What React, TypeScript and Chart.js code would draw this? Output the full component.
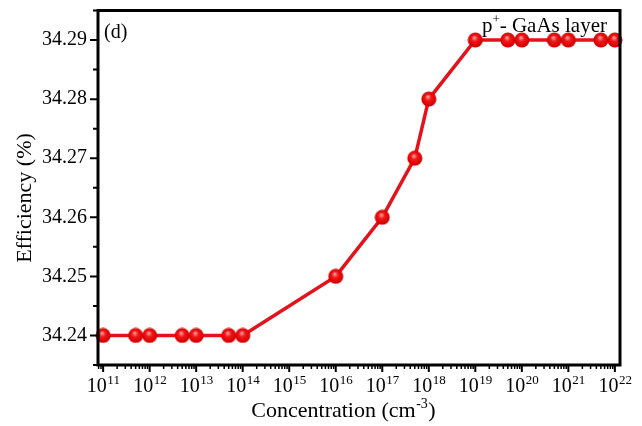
import React, { useEffect, useRef } from "react";
import { Chart, registerables } from "chart.js";

Chart.register(...registerables);

const concentration = [
  1e11, 5e11, 1e12, 5e12, 1e13, 5e13, 1e14, 1e16, 1e17, 5e17, 1e18, 1e19, 5e19, 1e20, 5e20, 1e21, 5e21, 1e22,
];
const efficiency = [
  34.24, 34.24, 34.24, 34.24, 34.24, 34.24, 34.24, 34.25, 34.26, 34.27, 34.28, 34.29, 34.29, 34.29, 34.29, 34.29, 34.29, 34.29,
];
const xTickExponents = [11, 12, 13, 14, 15, 16, 17, 18, 19, 20, 21, 22];
const yTickValues = [34.24, 34.25, 34.26, 34.27, 34.28, 34.29];
const yMinorValues = [34.235, 34.245, 34.255, 34.265, 34.275, 34.285, 34.295];
const xTitle = "Concentration (cm";
const xTitleSup = "-3";
const yTitle = "Efficiency (%)";
const panelLabel = "(d)";
const layerLabel = "p";
const layerLabelSup = "+";
const layerLabelRest = "- GaAs layer";

const FONT = "'Liberation Serif', 'Times New Roman', serif";

function makeSphere(): HTMLCanvasElement {
  const s = 16;
  const c = document.createElement("canvas");
  c.width = s;
  c.height = s;
  const g = c.getContext("2d")!;
  const grad = g.createRadialGradient(s / 2 - 1, s / 2 - 2.5, 0.5, s / 2, s / 2, s / 2);
  grad.addColorStop(0, "#ff9a9a");
  grad.addColorStop(0.35, "#f01818");
  grad.addColorStop(0.85, "#d80000");
  grad.addColorStop(1, "#b00000");
  g.fillStyle = grad;
  g.beginPath();
  g.arc(s / 2, s / 2, s / 2 - 0.5, 0, Math.PI * 2);
  g.fill();
  return c;
}

const framePlugin = {
  id: "frame",
  afterDraw(chart: any) {
    const { ctx, chartArea, scales } = chart;
    const { left, right, top, bottom } = chartArea;
    ctx.save();
    ctx.strokeStyle = "#000";
    ctx.lineWidth = 3;
    ctx.strokeRect(left, top, right - left, bottom - top);
    // y ticks
    ctx.lineWidth = 2;
    ctx.beginPath();
    yTickValues.forEach((v) => {
      const y = scales.y.getPixelForValue(v);
      ctx.moveTo(left, y);
      ctx.lineTo(left - 8, y);
    });
    yMinorValues.forEach((v) => {
      const y = scales.y.getPixelForValue(v);
      ctx.moveTo(left, y);
      ctx.lineTo(left - 5, y);
    });
    // x ticks
    xTickExponents.forEach((e) => {
      const x = scales.x.getPixelForValue(Math.pow(10, e));
      ctx.moveTo(x, bottom);
      ctx.lineTo(x, bottom + 7);
    });
    ctx.stroke();
    ctx.lineWidth = 1.5;
    ctx.beginPath();
    for (let e = 10; e <= 22; e++) {
      for (let m = 2; m <= 9; m++) {
        const v = m * Math.pow(10, e);
        if (v < scales.x.min || v > scales.x.max) continue;
        const x = scales.x.getPixelForValue(v);
        ctx.moveTo(x, bottom);
        ctx.lineTo(x, bottom + 4);
      }
    }
    ctx.stroke();

    ctx.fillStyle = "#000";
    ctx.textBaseline = "alphabetic";
    ctx.textAlign = "left";

    // x tick labels: 10 with superscript exponent
    xTickExponents.forEach((e) => {
      const x = scales.x.getPixelForValue(Math.pow(10, e));
      ctx.font = `20px ${FONT}`;
      const wBase = ctx.measureText("10").width;
      ctx.font = `13px ${FONT}`;
      const wExp = ctx.measureText(String(e)).width;
      const x0 = x - (wBase + wExp) / 2;
      ctx.font = `20px ${FONT}`;
      ctx.fillText("10", x0, bottom + 27);
      ctx.font = `13px ${FONT}`;
      ctx.fillText(String(e), x0 + wBase + 0.5, bottom + 19);
    });

    // x title
    ctx.font = `22px ${FONT}`;
    const w1 = ctx.measureText(xTitle).width;
    ctx.font = `14px ${FONT}`;
    const w2 = ctx.measureText(xTitleSup).width;
    ctx.font = `22px ${FONT}`;
    const w3 = ctx.measureText(")").width;
    let tx = 343 - (w1 + w2 + w3) / 2;
    ctx.fillText(xTitle, tx, 417);
    tx += w1;
    ctx.font = `14px ${FONT}`;
    ctx.fillText(xTitleSup, tx + 0.5, 408);
    tx += w2 + 1;
    ctx.font = `22px ${FONT}`;
    ctx.fillText(")", tx, 417);

    // y title
    ctx.save();
    ctx.translate(31, 198);
    ctx.rotate(-Math.PI / 2);
    ctx.textAlign = "center";
    ctx.font = `22px ${FONT}`;
    ctx.fillText(yTitle, 0, 0);
    ctx.restore();

    // annotations
    ctx.font = `20px ${FONT}`;
    ctx.textAlign = "left";
    ctx.fillText(panelLabel, left + 6, top + 27);
    ctx.font = `21px ${FONT}`;
    const a = ctx.measureText(layerLabel).width;
    ctx.font = `13px ${FONT}`;
    const b = ctx.measureText(layerLabelSup).width;
    ctx.font = `21px ${FONT}`;
    const c = ctx.measureText(layerLabelRest).width;
    let lx = right - 13 - (a + b + c);
    ctx.fillText(layerLabel, lx, top + 21);
    lx += a;
    ctx.font = `13px ${FONT}`;
    ctx.fillText(layerLabelSup, lx, top + 12);
    lx += b;
    ctx.font = `21px ${FONT}`;
    ctx.fillText(layerLabelRest, lx, top + 21);
    ctx.restore();
  },
};

export default function App() {
  const ref = useRef<HTMLCanvasElement | null>(null);
  useEffect(() => {
    document.body.style.margin = "0";
    const sphere = makeSphere();
    const chart = new Chart(ref.current!, {
      type: "line",
      data: {
        datasets: [
          {
            data: concentration.map((x, i) => ({ x, y: efficiency[i] })),
            borderColor: "#e4121a",
            borderWidth: 3.5,
            pointStyle: sphere as any,
            pointRadius: 7,
            tension: 0,
            clip: false as any,
          },
        ],
      },
      options: {
        animation: false,
        responsive: false,
        maintainAspectRatio: false,
        layout: { padding: { top: 8, right: 22, left: 0, bottom: 0 } },
        plugins: { legend: { display: false }, tooltip: { enabled: false } },
        scales: {
          x: {
            type: "logarithmic",
            min: Math.pow(10, 10.89),
            max: Math.pow(10, 22.11),
            afterBuildTicks: (scale: any) => {
              scale.ticks = xTickExponents.map((e) => ({ value: Math.pow(10, e) }));
            },
            afterFit: (scale: any) => {
              scale.height = 61;
              scale.paddingLeft = 0;
              scale.paddingRight = 0;
            },
            ticks: { display: false },
            grid: { display: false, drawTicks: false },
            border: { display: false },
          },
          y: {
            type: "linear",
            min: 34.235,
            max: 34.295,
            afterBuildTicks: (scale: any) => {
              scale.ticks = yTickValues.map((v) => ({ value: v }));
            },
            afterFit: (scale: any) => {
              scale.width = 98;
              scale.paddingTop = 0;
              scale.paddingBottom = 0;
            },
            ticks: {
              padding: 11,
              color: "#000",
              font: { family: FONT, size: 20 },
              callback: (v: any) => Number(v).toFixed(2),
            },
            grid: { display: false, drawTicks: false },
            border: { display: false },
          },
        },
      },
      plugins: [framePlugin],
    });
    return () => chart.destroy();
  }, []);
  return (
    <div style={{ position: "absolute", left: 0, top: 0, width: 642, height: 426, background: "#fff" }}>
      <canvas ref={ref} width={642} height={426} style={{ display: "block", width: 642, height: 426 }} />
    </div>
  );
}
